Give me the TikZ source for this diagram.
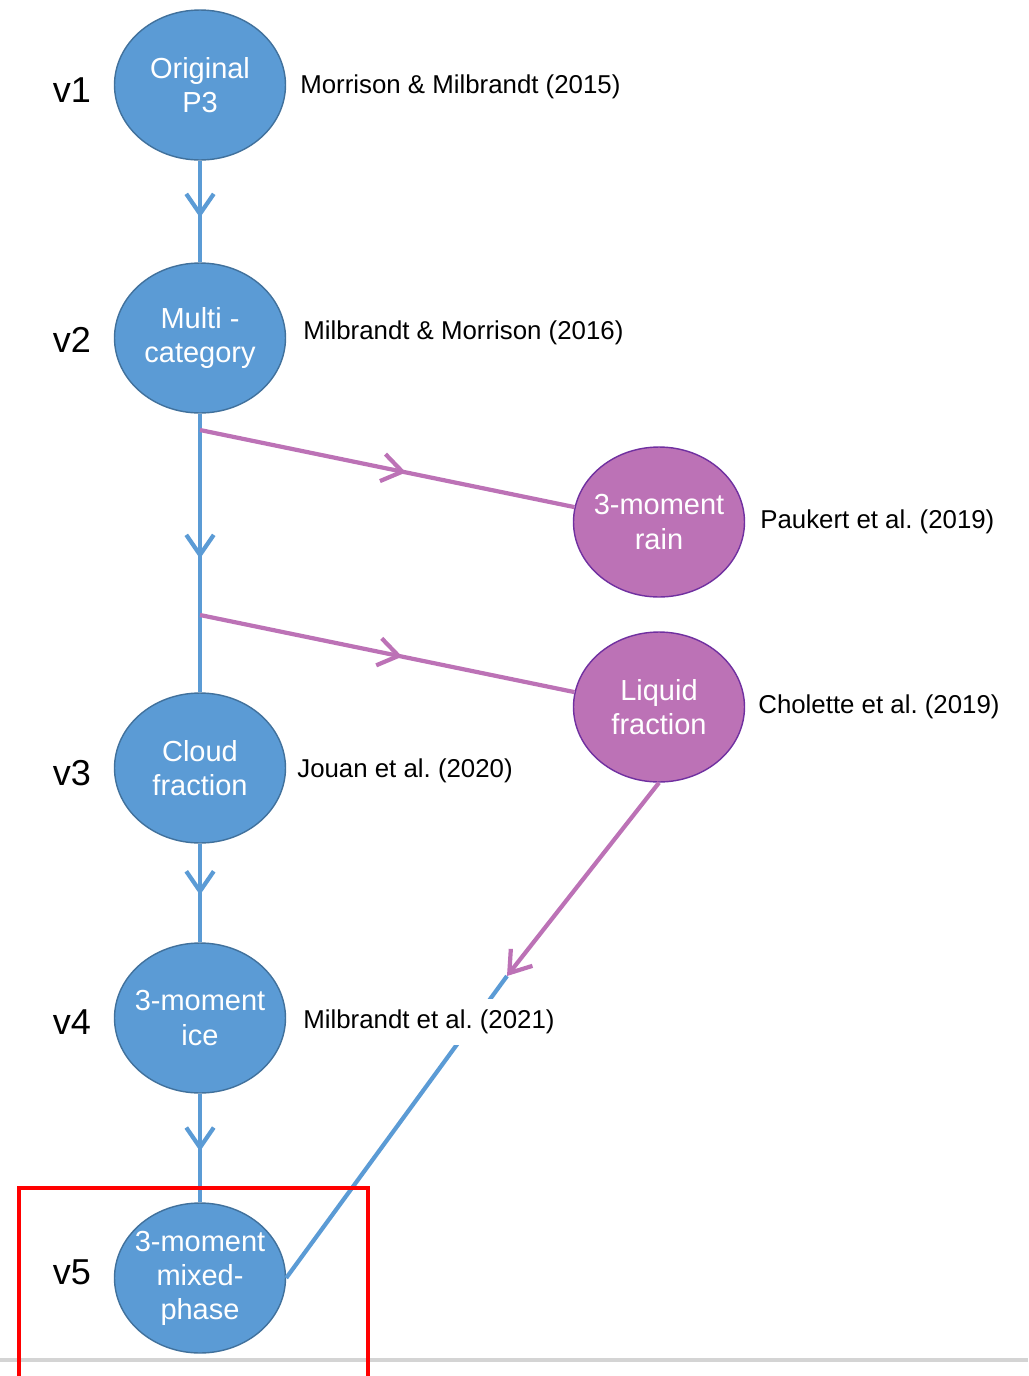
\documentclass[tikz,border=0pt]{standalone}
\usepackage{fontspec}
\setmainfont{Liberation Sans}
\frenchspacing
\usetikzlibrary{shapes.geometric,arrows.meta,decorations.markings}
\definecolor{p3blue}{HTML}{5B9BD5}
\definecolor{p3edge}{HTML}{41719C}
\definecolor{p3pink}{HTML}{BC72B6}
\definecolor{p3purple}{HTML}{7030A0}
\begin{document}
\begin{tikzpicture}
  [x=0.02cm,y=-0.02cm,
   scheme/.style={ellipse,minimum width=3.42cm,minimum height=3cm,inner xsep=-8pt,inner ysep=0pt,
     text=white,align=center,font=\fontsize{16.5}{19.4}\selectfont},
   midarrow/.style={postaction={decorate},decoration={markings,
     mark=at position #1 with {\arrow{Straight Barb[length=0.4cm,width=0.55cm]}}}}]
  \tikzstyle{mainver} = [scheme,fill=p3blue,draw=p3edge,thick]
  \tikzstyle{branch} = [scheme,fill=p3pink,draw=p3purple,thick]
  \tikzstyle{ref} = [anchor=west,inner sep=0pt,font=\fontsize{14.7}{17}\selectfont]
  \tikzstyle{ver} = [font=\fontsize{20.5}{24}\selectfont]
  \tikzstyle{bline} = [draw=p3blue,line width=2.4pt]
  \tikzstyle{pline} = [draw=p3pink,line width=2.4pt]
  \useasboundingbox (0,0) rectangle (1028,1376);
  % versions
  \node[mainver] (v1) at (200,85)   {Original\\P3};
  \node[mainver] (v2) at (200,338)  {Multi -\\category};
  \node[mainver] (v3) at (200,768)  {Cloud\\fraction};
  \node[mainver] (v4) at (200,1018) {3-moment\\ice};
  \node[mainver] (v5) at (200,1278) {3-moment\\mixed-\\phase};
  \node[branch] (rain)   at (659,522) {3-moment\\rain};
  \node[branch] (liquid) at (659,707) {Liquid\\fraction};
  \foreach \name /\lab /\ypos in {v1/v1/90,v2/v2/340,v3/v3/773,v4/v4/1022,v5/v5/1272}
   \node[ver] (lab\name) at (72,\ypos) {\lab};
  \coordinate (b1) at (200,430);
  \coordinate (b2) at (200,615);
  \coordinate (merge) at (507,976);
  % connectors
  \foreach \source /\dest /\pos in {v1/v2/0.56,v2/v3/0.52,v3/v4/0.52,v4/v5/0.53}
   \draw[bline,midarrow=\pos] (\source) -- (\dest);
  \foreach \source /\dest /\pos in {b1/rain.170/0.55,b2/liquid.170/0.54}
   \draw[pline,midarrow=\pos] (\source) -- (\dest);
  \draw[pline,-{Straight Barb[length=0.4cm,width=0.55cm]}] (liquid.south) -- (merge);
  \draw[bline] (merge) -- (v5.east);
  % references
  \node[ref] (r1) at (300,87)   {Morrison \& Milbrandt (2015)};
  \node[ref] (r2) at (303,333)  {Milbrandt \& Morrison (2016)};
  \node[ref] (r3) at (760,522)  {Paukert et al. (2019)};
  \node[ref] (r4) at (758,707)  {Cholette et al. (2019)};
  \node[ref] (r5) at (297,771)  {Jouan et al. (2020)};
  \node[ref,fill=white,inner ysep=6.5pt] (r6) at (303,1022) {Milbrandt et al. (2021)};
  % frame
  \draw[black!17,line width=2pt] (0,1360) -- (1028,1360);
  \draw[red,line width=2.2pt] (19,1188) rectangle (368,1382);
\end{tikzpicture}
\end{document}
